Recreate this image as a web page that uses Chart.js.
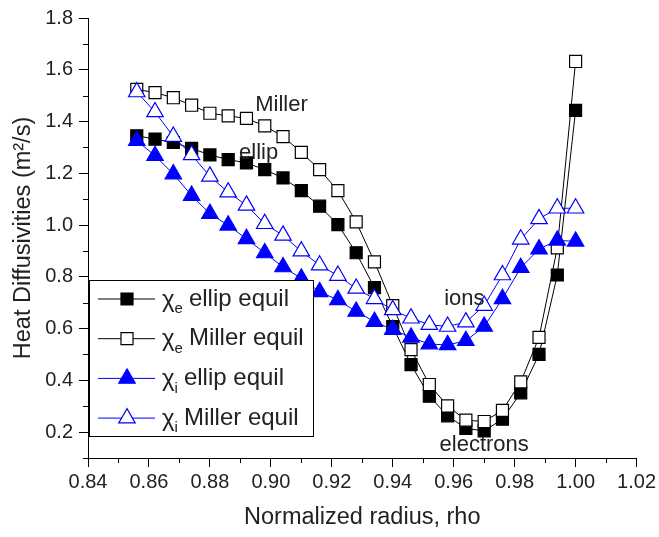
<!DOCTYPE html>
<html>
<head>
<meta charset="utf-8">
<script src="https://cdn.jsdelivr.net/npm/chart.js@4/dist/chart.umd.min.js"></script>
<style>
  html, body { margin: 0; padding: 0; background: #fff; }
  #wrap { width: 659px; height: 537px; position: relative; }
</style>
</head>
<body>
<div id="wrap"><canvas id="chart"></canvas></div>
<script>
// normalized radius of each point
const rho = [0.856, 0.862, 0.868, 0.874, 0.880, 0.886, 0.892, 0.898, 0.904, 0.910,
             0.916, 0.922, 0.928, 0.934, 0.940, 0.946, 0.952, 0.958, 0.964, 0.970,
             0.976, 0.982, 0.988, 0.994, 1.000];

const chiEEllip  = [1.345, 1.332, 1.319, 1.296, 1.271, 1.253, 1.240, 1.214, 1.182, 1.133,
                    1.073, 1.002, 0.893, 0.758, 0.608, 0.461, 0.339, 0.263, 0.214, 0.205,
                    0.250, 0.352, 0.500, 0.807, 1.443];
const chiEMiller = [1.524, 1.512, 1.492, 1.463, 1.432, 1.422, 1.412, 1.383, 1.342, 1.281,
                    1.214, 1.133, 1.012, 0.858, 0.689, 0.519, 0.384, 0.301, 0.246, 0.241,
                    0.284, 0.394, 0.566, 0.912, 1.632];
const chiIEllip  = [1.326, 1.268, 1.197, 1.114, 1.044, 0.999, 0.947, 0.892, 0.838, 0.794,
                    0.742, 0.711, 0.666, 0.627, 0.596, 0.566, 0.540, 0.537, 0.553, 0.608,
                    0.715, 0.835, 0.907, 0.941, 0.937];
const chiIMiller = [1.514, 1.437, 1.342, 1.271, 1.188, 1.127, 1.076, 1.005, 0.960, 0.899,
                    0.845, 0.805, 0.755, 0.715, 0.672, 0.640, 0.615, 0.608, 0.625, 0.689,
                    0.807, 0.945, 1.024, 1.065, 1.065];

const xTicks = [0.84, 0.86, 0.88, 0.90, 0.92, 0.94, 0.96, 0.98, 1.00, 1.02];
const xMinor = [0.85, 0.87, 0.89, 0.91, 0.93, 0.95, 0.97, 0.99, 1.01];
const yTicks = [0.2, 0.4, 0.6, 0.8, 1.0, 1.2, 1.4, 1.6, 1.8];
const yMinor = [0.1, 0.3, 0.5, 0.7, 0.9, 1.1, 1.3, 1.5, 1.7];

// curve labels, placed in data coordinates
const notes = [
  { text: "Miller",    x: 0.9035, y: 1.465 },
  { text: "ellip",     x: 0.8960, y: 1.280 },
  { text: "ions",      x: 0.9635, y: 0.715 },
  { text: "electrons", x: 0.9700, y: 0.150 },
];

const legendRows = [
  { sub: "e", text: "ellip equil" },
  { sub: "e", text: "Miller equil" },
  { sub: "i", text: "ellip equil" },
  { sub: "i", text: "Miller equil" },
];

const FONT = '"Liberation Sans", Arial, sans-serif';
const BLUE = "#0000ff";
const INK = "#222";

function series(values, style, color, filled, order) {
  return {
    data: rho.map((x, i) => ({ x, y: values[i] })),
    borderColor: color,
    borderWidth: 1,
    pointStyle: style,
    pointRadius: style === "rect" ? 8.5 : 9.5,
    pointBorderWidth: 1.2,
    pointBorderColor: color,
    pointBackgroundColor: filled ? color : "#fff",
    tension: 0,
    order,
  };
}

const datasets = [
  series(chiEEllip, "rect", "#000", true, 4),
  series(chiEMiller, "rect", "#000", false, 3),
  series(chiIEllip, "triangle", BLUE, true, 2),
  series(chiIMiller, "triangle", BLUE, false, 1),
];

const decorations = {
  id: "decorations",
  afterDraw(chart) {
    const ctx = chart.ctx;
    const xs = chart.scales.x, ys = chart.scales.y;
    const a = chart.chartArea;
    ctx.save();

    // minor ticks
    ctx.strokeStyle = "#000";
    ctx.lineWidth = 1;
    ctx.beginPath();
    xMinor.forEach(v => {
      const px = Math.round(xs.getPixelForValue(v)) + 0.5;
      ctx.moveTo(px, a.bottom); ctx.lineTo(px, a.bottom + 5);
    });
    yMinor.forEach(v => {
      const py = Math.round(ys.getPixelForValue(v)) + 0.5;
      ctx.moveTo(a.left, py); ctx.lineTo(a.left - 5, py);
    });
    ctx.stroke();

    // curve labels
    ctx.fillStyle = INK;
    ctx.font = "22px " + FONT;
    ctx.textAlign = "center";
    ctx.textBaseline = "middle";
    notes.forEach(n => ctx.fillText(n.text, xs.getPixelForValue(n.x), ys.getPixelForValue(n.y)));

    // legend box in the lower-left corner of the plot
    const bx = a.left + 1, by = a.top + 262, bw = 224, bh = a.bottom - 22 - by;
    ctx.fillStyle = "#fff";
    ctx.fillRect(bx, by, bw, bh);
    ctx.strokeStyle = "#000";
    ctx.strokeRect(bx + 0.5, by + 0.5, bw, bh);

    legendRows.forEach((row, i) => {
      const ds = chart.data.datasets[i];
      const y = by + 19 + i * 39.7;
      ctx.strokeStyle = ds.borderColor;
      ctx.lineWidth = 1;
      ctx.beginPath();
      ctx.moveTo(bx + 9, y); ctx.lineTo(bx + 66, y);
      ctx.stroke();

      ctx.fillStyle = ds.pointBackgroundColor;
      ctx.strokeStyle = ds.pointBorderColor;
      ctx.lineWidth = ds.pointBorderWidth;
      Chart.helpers.drawPoint(ctx, {
        pointStyle: ds.pointStyle, rotation: 0, radius: ds.pointRadius, borderWidth: ds.pointBorderWidth
      }, bx + 38, y);

      // chi with subscript, then the label
      let x = bx + 73;
      ctx.fillStyle = INK;
      ctx.textAlign = "left";
      ctx.textBaseline = "middle";
      ctx.font = "24px " + FONT;
      ctx.fillText("\u03c7", x, y + 1);
      x += ctx.measureText("\u03c7").width;
      ctx.font = "15px " + FONT;
      ctx.fillText(row.sub, x, y + 10);
      x += ctx.measureText(row.sub).width + 6;
      ctx.font = "24px " + FONT;
      ctx.fillText(row.text, x, y);
    });
    ctx.restore();
  }
};

new Chart(document.getElementById("chart"), {
  type: "line",
  data: { datasets },
  plugins: [decorations],
  options: {
    responsive: true,
    maintainAspectRatio: false,
    animation: false,
    layout: { padding: { top: 15, right: 19, left: 0, bottom: 0 } },
    plugins: { legend: { display: false }, tooltip: { enabled: false } },
    scales: {
      x: {
        type: "linear",
        min: 0.84,
        max: 1.02,
        afterBuildTicks: s => { s.ticks = xTicks.map(v => ({ value: v })); },
        afterFit: s => { s.height = 79; },
        ticks: { color: INK, font: { family: FONT, size: 20 }, padding: 3,
                 callback: v => Number(v).toFixed(2), maxRotation: 0, autoSkip: false },
        grid: { drawOnChartArea: false, tickLength: 9, color: "#000", tickColor: "#000" },
        border: { color: "#000", width: 1 },
        title: { display: true, text: "Normalized radius, rho", color: INK,
                 font: { family: FONT, size: 23.5 }, padding: { top: 0, bottom: 5 } },
      },
      y: {
        type: "linear",
        min: 0.1,
        max: 1.8,
        afterBuildTicks: s => { s.ticks = yTicks.map(v => ({ value: v })); },
        afterFit: s => { s.width = 88; },
        ticks: { color: INK, font: { family: FONT, size: 20 }, padding: 6,
                 callback: v => Number(v).toFixed(1), autoSkip: false },
        grid: { drawOnChartArea: false, tickLength: 9, color: "#000", tickColor: "#000" },
        border: { color: "#000", width: 1 },
        title: { display: true, text: "Heat Diffusivities (m\u00b2/s)", color: INK,
                 font: { family: FONT, size: 23.5 }, padding: { top: 9, bottom: 0 } },
      },
    },
  },
});
</script>
</body>
</html>
